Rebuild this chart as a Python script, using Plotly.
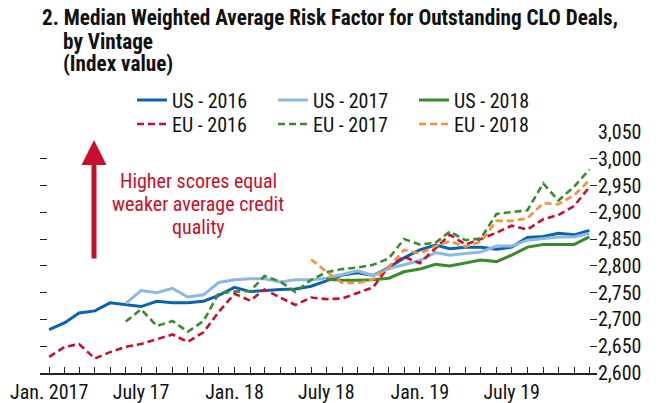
import plotly.graph_objects as go
import pandas as pd

months = pd.date_range("2017-01-01", "2019-12-01", freq="MS").strftime("%Y-%m-%d").tolist()

us_2016 = [2681, 2694, 2712, 2716, 2731, 2727, 2724, 2734, 2731, 2731, 2734, 2745,
           2760, 2752, 2754, 2756, 2757, 2762, 2772, 2783, 2787, 2782, 2797, 2815,
           2830, 2839, 2832, 2835, 2835, 2831, 2835, 2853, 2855, 2861, 2858, 2866]
us_2017 = [None] * 5 + [2730, 2754, 2750, 2758, 2742, 2746, 2769,
           2774, 2776, 2776, 2770, 2774, 2774, 2777, 2784, 2791, 2782, 2795, 2802,
           2810, 2825, 2820, 2823, 2826, 2837, 2837, 2848, 2851, 2854, 2854, 2861]
us_2018 = [None] * 18 + [2775, 2773, 2773, 2774, 2777, 2789,
           2794, 2803, 2800, 2805, 2811, 2808, 2820, 2835, 2840, 2840, 2840, 2854]
eu_2016 = [2630, 2649, 2654, 2627, 2639, 2649, 2654, 2663, 2672, 2658, 2676, 2714,
           2748, 2735, 2756, 2741, 2727, 2741, 2738, 2739, 2749, 2760, 2799, 2817,
           2805, 2833, 2858, 2840, 2850, 2862, 2875, 2868, 2887, 2895, 2912, 2947]
eu_2017 = [None] * 5 + [2696, 2719, 2688, 2697, 2677, 2697, 2749,
           2752, 2753, 2781, 2771, 2751, 2774, 2788, 2794, 2797, 2802, 2814, 2850,
           2840, 2843, 2864, 2848, 2851, 2897, 2901, 2904, 2954, 2922, 2948, 2980]
eu_2018 = [None] * 17 + [2812, 2789, 2768, 2768, 2775, 2798, 2830,
           2823, 2837, 2846, 2836, 2845, 2884, 2884, 2889, 2917, 2915, 2932, 2960]

series_names = ["US - 2016", "US - 2017", "US - 2018", "EU - 2016", "EU - 2017", "EU - 2018"]
series_values = [us_2016, us_2017, us_2018, eu_2016, eu_2017, eu_2018]
y_ticks = [2600, 2650, 2700, 2750, 2800, 2850, 2900, 2950, 3000, 3050]
x_label_map = {"2017-01-01": "Jan. 2017", "2017-07-01": "July 17", "2018-01-01": "Jan. 18",
               "2018-07-01": "July 18", "2019-01-01": "Jan. 19", "2019-07-01": "July 19"}
annotation_lines = ["Higher scores equal", "weaker average credit", "quality"]
title_lines = ["2. Median Weighted Average Risk Factor for Outstanding CLO Deals,",
               "by Vintage", "(Index value)"]

colors = ["#0B62B0", "#8DB8E0", "#3C8A2E", "#C8102E", "#3C8A2E", "#F98E3A"]
dashes = ["solid", "solid", "solid", "7px,4px", "7px,4px", "7px,4px"]
widths = [3, 3, 3, 2.6, 2.6, 2.6]
legend_ids = ["legend", "legend", "legend", "legend2", "legend2", "legend2"]

FONT = "Roboto Condensed, Liberation Sans Narrow, sans-serif"
INK = "#111111"
RED = "#C8102E"

# page body has an 8px margin: figure is sized to fill the rest of the window
PW, PH = 557, 241          # plot area size
L0, T0 = 40, 132           # plot area top-left in window pixels


def px(x):
    return (x - L0) / PW


def py(y):
    return (T0 + PH - y) / PH


fig = go.Figure()
for name, vals, c, d, w, lg in zip(series_names, series_values, colors, dashes, widths, legend_ids):
    fig.add_trace(go.Scatter(x=months, y=vals, name=name, mode="lines", legend=lg,
                             line=dict(color=c, dash=d, width=w)))

leg_common = dict(orientation="h", xanchor="left", yanchor="middle",
                  entrywidth=96, entrywidthmode="pixels", font=dict(size=20, family=FONT, color=INK),
                  itemwidth=30, bgcolor="rgba(0,0,0,0)", borderwidth=0)

fig.update_layout(
    template="none",
    width=654, height=395,
    margin=dict(l=L0 - 8, r=65, t=T0 - 8, b=30, autoexpand=False),
    paper_bgcolor="white", plot_bgcolor="white",
    font=dict(family=FONT, size=20, color=INK),
    showlegend=True,
    legend=dict(x=px(132), y=py(100), **leg_common),
    legend2=dict(x=px(132), y=py(124), **leg_common),
    xaxis=dict(type="date", range=["2016-12-14", "2019-12-16"],
               tickmode="array", tickvals=months,
               ticktext=[x_label_map.get(m, "") for m in months],
               ticks="inside", ticklen=6, tickcolor="#222", tickwidth=1.2,
               showline=True, linecolor="#222", linewidth=1.5, automargin=False,
               showgrid=False, zeroline=False, tickfont=dict(size=20)),
    yaxis=dict(range=[2600, 3050], tickvals=y_ticks, tickformat=",",
               side="right", ticks="inside", ticklen=7, tickcolor="#222", tickwidth=1.2,
               mirror="ticks", showline=False, showgrid=False, zeroline=False,
               automargin=False, tickfont=dict(size=20)),
)

fig.add_annotation(xref="paper", yref="paper", x=px(94), y=py(140), ax=0, ay=120,
                   text="", showarrow=True,
                   arrowhead=2, arrowsize=1, arrowwidth=5, arrowcolor=RED)
for txt, yy in zip(annotation_lines, [181, 204, 227]):
    fig.add_annotation(xref="paper", yref="paper", x=px(198), y=py(yy), text=txt,
                       xanchor="center", yanchor="middle",
                       showarrow=False, font=dict(size=20, color=RED))

title_pos = [(40, 18), (61, 41), (61, 64)]
for txt, (tx, ty) in zip(title_lines, title_pos):
    fig.add_annotation(xref="paper", yref="paper", x=px(tx), y=py(ty),
                       xanchor="left", yanchor="middle", text="<b>" + txt + "</b>",
                       showarrow=False, font=dict(size=21.2, color=INK))

fig.write_html("out.html")
